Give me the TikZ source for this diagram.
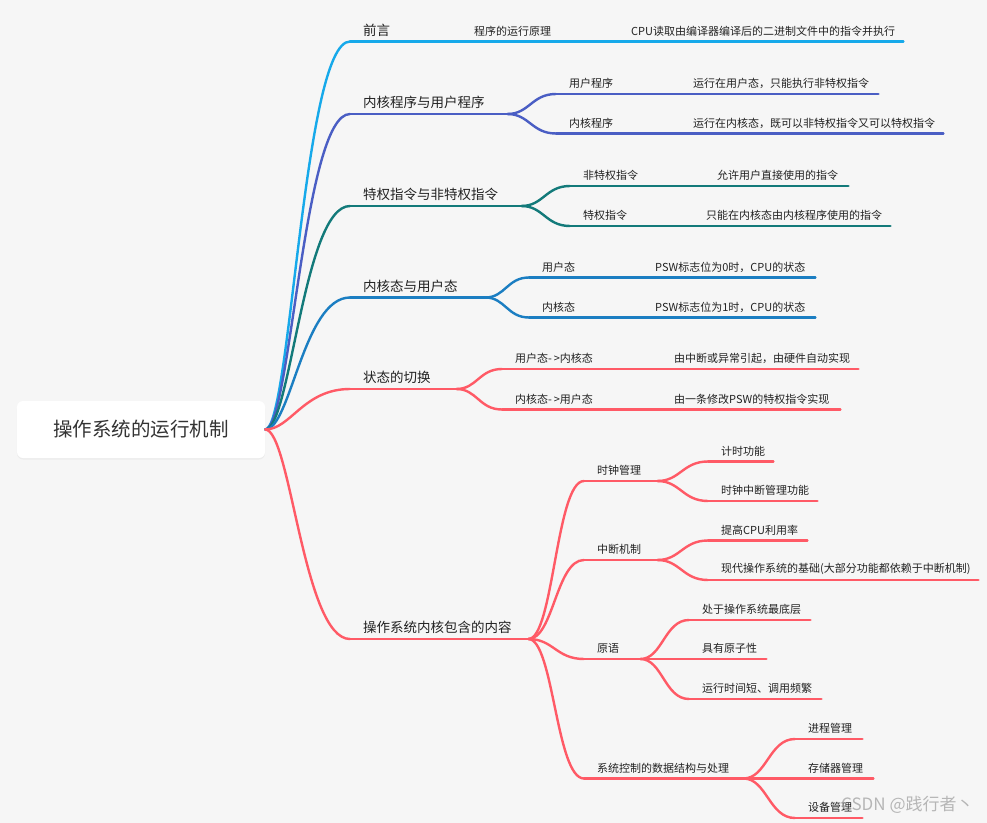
\documentclass[tikz,border=0pt]{standalone}
\usepackage{fontspec}
\setmainfont{Noto Sans CJK SC}
\usetikzlibrary{shadows,calc}
\definecolor{bg}{HTML}{F6F6F6}
\definecolor{cA}{HTML}{16A9EA}
\definecolor{cB}{HTML}{4A5EC4}
\definecolor{cC}{HTML}{137A7A}
\definecolor{cD}{HTML}{1B7EC2}
\definecolor{cE}{HTML}{FF5A66}
\definecolor{txt}{HTML}{222222}
\begin{document}
\begin{tikzpicture}[x=1bp,y=-1bp,
  tp/.style={anchor=south west, inner xsep=0pt, inner ysep=5bp, align=left, text=txt,
    execute at begin node={\hspace*{13bp}}},
  lv1/.style={tp, font=\fontsize{13.5bp}{16bp}\selectfont},
  lv2/.style={tp, font=\fontsize{11bp}{13bp}\selectfont},
  ln/.style={line width=2.4bp, line cap=round},
  branch/.style={to path={let \p1=(\tikztostart), \p2=(\tikztotarget) in
     .. controls ({\x1+0.3*(\x2-\x1)},\y1) and ({\x2-0.55*(\x2-\x1)},\y2) .. (\tikztotarget)}},
  sbranch/.style={to path={let \p1=(\tikztostart), \p2=(\tikztotarget) in
     .. controls ({\x1+0.45*(\x2-\x1)},\y1) and ({\x2-0.5*(\x2-\x1)},\y2) .. (\tikztotarget)}}
]
\fill[bg] (0,0) rectangle (987,823);
\useasboundingbox (0,0) rectangle (987,823);

% root
\node[fill=white, rounded corners=6bp, minimum width=248bp, minimum height=57bp, inner sep=0pt,
  drop shadow={shadow xshift=0bp, shadow yshift=-1.5bp, opacity=0.08},
  text=black!80, font=\fontsize{19.5bp}{23bp}\selectfont] (root) at (141,429.5) {操作系统的运行机制};

% level 1
\node[lv1, text width=111bp] (A) at (350,41.5) {前言};
\node[lv1, text width=157bp] (B) at (350,114) {内核程序与用户程序};
\node[lv1, text width=171bp] (C) at (350,206) {特权指令与非特权指令};
\node[lv1, text width=135bp] (D) at (350,297.5) {内核态与用户态};
\node[lv1, text width=106bp] (E) at (350,389) {状态的切换};
\node[lv1, text width=178bp] (F) at (350,639) {操作系统内核包含的内容};

% A
\node[lv2, text width=157bp] (A1) at (461,41.5) {程序的运行原理};
\node[lv2, text width=285bp] (A11) at (618,41.5) {CPU读取由编译器编译后的二进制文件中的指令并执行};
% B
\node[lv2, text width=124bp] (B1) at (556,94) {用户程序};
\node[lv2, text width=198bp] (B11) at (680,94) {运行在用户态，只能执行非特权指令};
\node[lv2, text width=124bp] (B2) at (556,133.5) {内核程序};
\node[lv2, text width=263bp] (B21) at (680,133.5) {运行在内核态，既可以非特权指令又可以特权指令};
% C
\node[lv2, text width=134bp] (C1) at (570,186) {非特权指令};
\node[lv2, text width=144bp] (C11) at (704,186) {允许用户直接使用的指令};
\node[lv2, text width=123bp] (C2) at (570,226) {特权指令};
\node[lv2, text width=197bp] (C21) at (693,226) {只能在内核态由内核程序使用的指令};
% D
\node[lv2, text width=113bp] (D1) at (529,277.5) {用户态};
\node[lv2, text width=173bp] (D11) at (642,277.5) {PSW标志位为0时，CPU的状态};
\node[lv2, text width=113bp] (D2) at (529,317.5) {内核态};
\node[lv2, text width=173bp] (D21) at (642,317.5) {PSW标志位为1时，CPU的状态};
% E
\node[lv2, text width=159bp] (E1) at (502,369) {用户态-\,>内核态};
\node[lv2, text width=197bp] (E11) at (661,369) {由中断或异常引起，由硬件自动实现};
\node[lv2, text width=159bp] (E2) at (502,409.5) {内核态-\,>用户态};
\node[lv2, text width=179bp] (E21) at (661,409.5) {由一条修改PSW的特权指令实现};
% F
\node[lv2, text width=73bp] (F1) at (584,481) {时钟管理};
\node[lv2, text width=65bp] (F11) at (708,461.5) {计时功能};
\node[lv2, text width=109bp] (F12) at (708,501) {时钟中断管理功能};
\node[lv2, text width=73bp] (F2) at (584,560) {中断机制};
\node[lv2, text width=99bp] (F21) at (708,540.5) {提高CPU利用率};
\node[lv2, text width=270bp] (F22) at (708,580) {现代操作系统的基础(大部分功能都依赖于中断机制)};
\node[lv2, text width=56bp] (F3) at (584,659) {原语};
\node[lv2, text width=121bp] (F31) at (689,620) {处于操作系统最底层};
\node[lv2, text width=77bp] (F32) at (689,659) {具有原子性};
\node[lv2, text width=132bp] (F33) at (689,699) {运行时间短、调用频繁};
\node[lv2, text width=159bp] (F4) at (584,778.5) {系统控制的数据结构与处理};
\node[lv2, text width=67bp] (F41) at (795,739) {进程管理};
\node[lv2, text width=78bp] (F42) at (795,778.5) {存储器管理};
\node[lv2, text width=67bp] (F43) at (795,818) {设备管理};

% underlines
\foreach \n in {A,A1,A11}{\draw[ln,cA] (\n.south west) -- (\n.south east);}
\foreach \n in {B,B1,B11,B2,B21}{\draw[ln,cB] (\n.south west) -- (\n.south east);}
\foreach \n in {C,C1,C11,C2,C21}{\draw[ln,cC] (\n.south west) -- (\n.south east);}
\foreach \n in {D,D1,D11,D2,D21}{\draw[ln,cD] (\n.south west) -- (\n.south east);}
\foreach \n in {E,E1,E11,E2,E21,F,F1,F11,F12,F2,F21,F22,F3,F31,F32,F33,F4,F41,F42,F43}{\draw[ln,cE] (\n.south west) -- (\n.south east);}

% connectors
\draw[ln,cA] (root.east) to[branch] (A.south west);
\draw[ln,cB] (root.east) to[branch] (B.south west);
\draw[ln,cC] (root.east) to[branch] (C.south west);
\draw[ln,cD] (root.east) to[branch] (D.south west);
\draw[ln,cE] (root.east) to[branch] (E.south west);
\draw[ln,cE] (root.east) to[branch] (F.south west);

\draw[ln,cA] (A.south east) -- (A1.south west);
\draw[ln,cA] (A1.south east) -- (A11.south west);

\draw[ln,cB] (B.south east) to[sbranch] (B1.south west);
\draw[ln,cB] (B.south east) to[sbranch] (B2.south west);
\draw[ln,cB] (B1.south east) -- (B11.south west);
\draw[ln,cB] (B2.south east) -- (B21.south west);

\draw[ln,cC] (C.south east) to[sbranch] (C1.south west);
\draw[ln,cC] (C.south east) to[sbranch] (C2.south west);
\draw[ln,cC] (C1.south east) -- (C11.south west);
\draw[ln,cC] (C2.south east) -- (C21.south west);

\draw[ln,cD] (D.south east) to[sbranch] (D1.south west);
\draw[ln,cD] (D.south east) to[sbranch] (D2.south west);
\draw[ln,cD] (D1.south east) -- (D11.south west);
\draw[ln,cD] (D2.south east) -- (D21.south west);

\draw[ln,cE] (E.south east) to[sbranch] (E1.south west);
\draw[ln,cE] (E.south east) to[sbranch] (E2.south west);
\draw[ln,cE] (E1.south east) -- (E11.south west);
\draw[ln,cE] (E2.south east) -- (E21.south west);

\foreach \c in {F1,F2,F3,F4}{\draw[ln,cE] (F.south east) to[sbranch] (\c.south west);}
\foreach \c in {F11,F12}{\draw[ln,cE] (F1.south east) to[sbranch] (\c.south west);}
\foreach \c in {F21,F22}{\draw[ln,cE] (F2.south east) to[sbranch] (\c.south west);}
\foreach \c in {F31,F32,F33}{\draw[ln,cE] (F3.south east) to[sbranch] (\c.south west);}
\foreach \c in {F41,F42,F43}{\draw[ln,cE] (F4.south east) to[sbranch] (\c.south west);}

% watermark
\node[anchor=west, inner sep=0pt, text=gray!70, opacity=0.8, font=\fontsize{17bp}{20bp}\selectfont] (wm) at (841,805) {CSDN @践行者丶};
\end{tikzpicture}
\end{document}
